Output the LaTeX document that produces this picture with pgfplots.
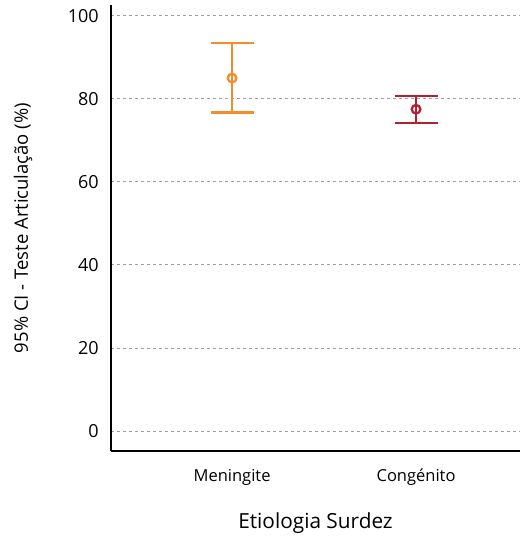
\documentclass[border=0pt]{standalone}
\usepackage{pgfplots}
\pgfplotsset{compat=1.18}
\usepackage{fontspec}
\setmainfont{Open Sans}
\definecolor{morange}{RGB}{246,139,42}
\definecolor{mred}{RGB}{180,32,48}
\begin{document}
\begin{tikzpicture}[x=1bp,y=1bp]
\path[use as bounding box] (-111,-87) rectangle (414,451);
\begin{axis}[
  at={(0,0)}, anchor=south west,
  width=409bp, height=446bp, scale only axis,
  xmin=-0.658, xmax=1.565,
  ymin=-4.8, ymax=102.6,
  axis x line*=bottom, axis y line*=left,
  axis line style={line width=1.3bp, black, -},
  xtick={0,1}, xticklabels={Meningite,Congénito},
  ytick={0,20,...,100},
  major tick length=0pt,
  ymajorgrids, grid style={dash pattern=on 3bp off 3bp, gray!75, line width=1bp},
  /pgf/number format/assume math mode=true,
  yticklabel style={font=\fontsize{18bp}{21bp}\selectfont, anchor=east, xshift=-8.7bp},
  xticklabel style={font=\fontsize{16.5bp}{19bp}\selectfont, anchor=base, yshift=-30bp},
  xlabel={Etiologia Surdez},
  ylabel={95\% CI - Teste Articulação (\%)},
  every axis x label/.style={at={(axis description cs:0.5,-0.1614)}, anchor=center,
    font=\fontsize{20.8bp}{24bp}\selectfont},
  every axis y label/.style={at={(axis description cs:-0.215,0.5)}, anchor=center, rotate=90,
    font=\fontsize{18.5bp}{22bp}\selectfont},
  clip=false,
]
\addplot[color=morange, line width=2.3bp, mark=o, mark size=4.3bp, only marks,
  error bars/.cd, y dir=both, y explicit,
  error bar style={line width=2.3bp, morange},
  error mark options={rotate=90, mark size=21.5bp, line width=2.3bp, morange}]
  coordinates {(0,85.0) += (0,8.4) -= (0,8.3)};
\addplot[color=mred, line width=2.3bp, mark=o, mark size=4.3bp, only marks,
  error bars/.cd, y dir=both, y explicit,
  error bar style={line width=2.3bp, mred},
  error mark options={rotate=90, mark size=21.5bp, line width=2.3bp, mred}]
  coordinates {(1,77.5) += (0,3.2) -= (0,3.3)};
\end{axis}
\end{tikzpicture}
\end{document}
